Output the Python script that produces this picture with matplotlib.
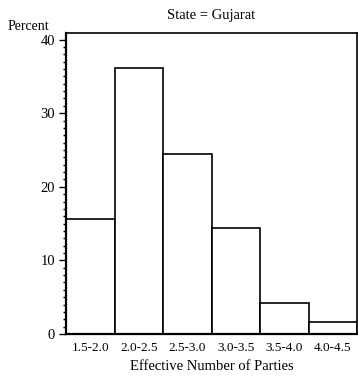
import numpy as np
import matplotlib.pyplot as plt
from matplotlib.ticker import MultipleLocator

plt.rcParams['font.family'] = ['Liberation Serif', 'DejaVu Serif']

bins = ['1.5-2.0', '2.0-2.5', '2.5-3.0', '3.0-3.5', '3.5-4.0', '4.0-4.5']
percent = [15.6, 36.1, 24.5, 14.4, 4.2, 1.6]

fig = plt.figure(figsize=(3.58, 3.80), dpi=100)
ax = fig.add_axes([66/358, 46/380, 291/358, 301/380])

x = np.arange(len(bins))
ax.bar(x, percent, width=1.0, color='white', edgecolor='black', linewidth=1.2)

ax.set_xlim(-0.5, len(bins) - 0.5)
ax.set_ylim(0, 40.9)
ax.set_xticks(x)
ax.set_xticklabels(bins, fontsize=9.5)
ax.tick_params(axis='x', length=0, pad=6)
ax.yaxis.set_major_locator(MultipleLocator(10))
ax.yaxis.set_minor_locator(MultipleLocator(1))
ax.tick_params(axis='y', which='major', length=5, width=1, labelsize=10.5, pad=3)
ax.tick_params(axis='y', which='minor', length=2.5, width=1)
for s in ax.spines.values():
    s.set_linewidth(1.2)
ax.spines['left'].set_linewidth(1.6)
ax.spines['bottom'].set_linewidth(1.6)

ax.set_xlabel('Effective Number of Parties', fontsize=10.5, labelpad=4)
ax.set_title('State = Gujarat', fontsize=10.5, pad=10)
fig.text(8/358, 1 - 27/380, 'Percent', fontsize=10, va='center', ha='left')

fig.savefig('out.png', dpi=100)
